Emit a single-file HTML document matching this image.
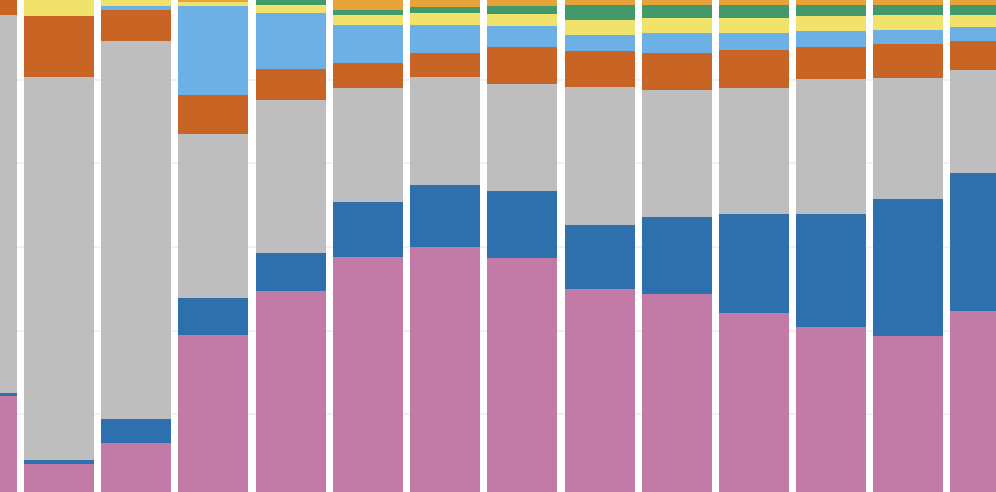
<!DOCTYPE html>
<html><head><meta charset="utf-8"><style>
html,body{margin:0;padding:0;background:#fff;width:996px;height:492px;overflow:hidden}
</style></head><body>
<svg id="s" width="996" height="492" xmlns="http://www.w3.org/2000/svg">
<g stroke="#e3e3e3" stroke-width="1">
<line x1="0" y1="80" x2="996" y2="80"/><line x1="0" y1="163" x2="996" y2="163"/>
<line x1="0" y1="247" x2="996" y2="247"/><line x1="0" y1="331" x2="996" y2="331"/>
<line x1="0" y1="414" x2="996" y2="414"/>
</g>
</svg>
<script>
var C=["#c27ba6","#2e6fad","#bebebe","#c86424","#6cb0e6","#f0e26a","#429a6a","#e8a23a"];
// tops of segments from bottom: pink, blue, gray, orange, lightblue, yellow, green, lightorange
var bars=[
[0,17,[396,393,15,0]],
[24,94,[464,460,77,16,16,0]],
[101,171,[443,419,41,10,6,0]],
[178,248,[335,298,134,95,6,2,2,0]],
[256,326,[291,253,100,69,13,5,0]],
[333,403,[257,202,88,63,25,15,10,0]],
[410,480,[247,185,77,53,25,13,7,0]],
[487,557,[258,191,84,47,26,14,6,0]],
[565,635,[289,225,87,51,35,20,5,0]],
[642,712,[294,217,90,53,33,18,5,0]],
[719,789,[313,214,88,50,33,18,5,0]],
[796,866,[327,214,79,47,31,16,5,0]],
[873,943,[336,199,78,44,30,15,5,0]],
[950,996,[311,173,70,41,27,15,5,0]]
];
var s=document.getElementById('s'),h='';
bars.forEach(function(b){var bot=492;b[2].forEach(function(t,i){if(bot>t)h+='<rect x="'+b[0]+'" y="'+t+'" width="'+(b[1]-b[0])+'" height="'+(bot-t)+'" fill="'+C[i]+'"/>';bot=t;});});
s.insertAdjacentHTML('beforeend',h);
</script>
</body></html>
